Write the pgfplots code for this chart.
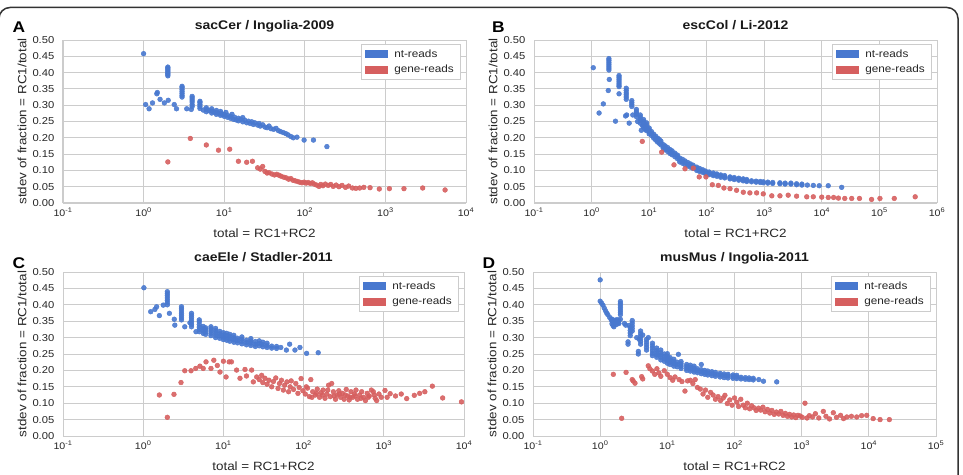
\documentclass[border=0pt]{standalone}
\usepackage{pgfplots}
\pgfplotsset{compat=1.18}
\usepackage{fontspec}
\setmainfont{Liberation Sans}[FakeStretch=1.12]

\definecolor{ntblue}{HTML}{4878CF}
\definecolor{genered}{HTML}{D65F5F}
\definecolor{txt}{HTML}{262626}

\pgfplotsset{
  every axis/.append style={
    scale only axis,
    xmin=0.1,
    ymin=0, ymax=0.5,
    ytick={0,0.05,0.1,0.15,0.2,0.25,0.3,0.35,0.4,0.45,0.5},
    xminorticks=false,
    major tick length=0pt,
    grid=major,
    major grid style={gray!40, line width=0.9pt},
    axis line style={gray!40, line width=1pt},
    tick label style={font=\fontsize{10}{12}\selectfont, text=txt},
    xticklabel style={anchor=base, yshift=-13.5pt, font=\fontsize{9.5}{11}\selectfont},
    yticklabel style={/pgf/number format/fixed, /pgf/number format/fixed zerofill,
      /pgf/number format/precision=2, /pgf/number format/assume math mode=true,
      anchor=east, inner sep=0pt, xshift=-8.5pt},
    label style={font=\fontsize{12}{14}\selectfont, text=txt},
    xlabel={total = RC1+RC2},
    ylabel={stdev of fraction = RC1/total},
    xlabel style={at={([yshift=-30pt]axis description cs:0.5,0)}, anchor=center},
    ylabel style={at={([xshift=-41pt]axis description cs:0,0.5)}, anchor=center},
    title style={font=\bfseries\fontsize{12.5}{14}\selectfont, text=black!90,
      at={([yshift=5pt]axis description cs:0.5,1)}, anchor=base, inner sep=0pt},
    legend style={at={(0.985,0.977)}, anchor=north east, draw=gray!40, fill=white,
      font=\fontsize{10.5}{12}\selectfont, text=txt, row sep=2.5pt,
      inner xsep=4pt, inner ysep=3.5pt},
    legend cell align=left,
  },
  ntpts/.style={only marks, mark=*, mark size=2.4pt, color=ntblue,
    mark options={draw=none, fill=ntblue, fill opacity=0.9},
    legend image code/.code={\fill[ntblue] (0pt,-3.5pt) rectangle (22pt,3.5pt);
      \path[draw=none, fill=none] (0pt,0pt) rectangle (27pt,0.1pt);}},
  genepts/.style={only marks, mark=*, mark size=2.4pt, color=genered,
    mark options={draw=none, fill=genered, fill opacity=0.9},
    legend image code/.code={\fill[genered] (0pt,-3.5pt) rectangle (22pt,3.5pt);
      \path[draw=none, fill=none] (0pt,0pt) rectangle (27pt,0.1pt);}},
}

\begin{document}
\begin{tikzpicture}
\useasboundingbox (0pt,0pt) rectangle (963pt,474pt);

% outer rounded frame
\draw[line width=1.5pt, black!80, rounded corners=11pt] (-1pt,-30pt) rectangle (958pt,466.5pt);

% panel letters
\node[font=\bfseries\fontsize{15.5}{17}\selectfont] at (19pt,446.5pt) {A};
\node[font=\bfseries\fontsize{15.5}{17}\selectfont] at (498.5pt,446.5pt) {B};
\node[font=\bfseries\fontsize{15.5}{17}\selectfont] at (19pt,211pt) {C};
\node[font=\bfseries\fontsize{15.5}{17}\selectfont] at (489pt,211pt) {D};

% ---------------- A ----------------
\begin{semilogxaxis}[at={(63pt,271pt)}, anchor=south west, width=403pt, height=163pt,
  xmax=1e4, xtick={0.1,1,10,100,1000,10000},
  xticklabels={10\textsuperscript{-1},10\textsuperscript{0},10\textsuperscript{1},10\textsuperscript{2},10\textsuperscript{3},10\textsuperscript{4}},
  title={sacCer / Ingolia-2009}]
\addplot[ntpts] coordinates {
(1.0,0.458) (1.06,0.302) (1.17,0.289) (1.29,0.307) (1.46,0.335) (1.48,0.339) (1.6,0.318) (1.81,0.307)
(2,0.390) (2,0.394) (2,0.398) (2,0.402) (2,0.406) (2,0.410) (2,0.414) (2,0.417) (2.02,0.315)
(2.4,0.302) (2.56,0.289)
(3,0.325) (3,0.330) (3,0.336) (3,0.342) (3,0.348) (3,0.354) (3,0.358)
(3.43,0.289) (3.9,0.287)
(4,0.296) (4,0.302) (4,0.310) (4,0.316) (4,0.322) (4,0.327)
(5,0.290) (5,0.296) (5,0.302) (5,0.308) (5,0.312)
(5.5,0.285) (6,0.280) (6,0.287) (6,0.292) (6.5,0.283) (7,0.276) (7,0.282) (7,0.289) (7.5,0.279)
(8,0.272) (8,0.278) (8,0.284) (8.5,0.275) (9,0.269) (9,0.276) (9,0.281) (9.5,0.272)
(10,0.266) (10,0.272) (10.5,0.278) (11,0.263) (11,0.269) (12,0.260) (12,0.266) (12.5,0.272)
(13,0.257) (13.5,0.263) (14,0.255) (15,0.260) (15,0.252) (16,0.257) (17,0.249) (17,0.262)
(18,0.254) (19,0.246) (20,0.251) (21,0.244) (22,0.249) (23,0.241) (24,0.246) (26,0.239)
(27,0.244) (28,0.236) (30,0.240) (32,0.233) (34,0.231) (36,0.236) (38,0.228) (41,0.226)
(44,0.229) (47,0.222) (50,0.219) (54,0.216) (58,0.213) (62,0.209) (67,0.204) (72,0.200)
(80,0.202) (98,0.193) (128,0.193) (188,0.173)
};
\addlegendentry{nt-reads}
\addplot[genepts] coordinates {
(2.0,0.126) (3.8,0.198) (6.0,0.178) (8.5,0.162) (11.7,0.165) (15,0.128) (19,0.125) (22.4,0.128)
(26,0.108) (28,0.104) (30,0.112) (32,0.097) (34,0.092) (36,0.093) (39,0.089) (42,0.086)
(45,0.088) (48,0.085) (51,0.082) (55,0.079) (59,0.077) (63,0.073) (67,0.075) (71,0.070)
(76,0.068) (81,0.066) (86,0.064) (92,0.062) (98,0.064) (104,0.061) (110,0.063) (117,0.060)
(124,0.062) (131,0.058) (140,0.055) (150,0.051) (158,0.057) (168,0.053) (180,0.058) (195,0.054)
(210,0.057) (225,0.051) (245,0.055) (265,0.050) (290,0.054) (320,0.048) (350,0.052) (390,0.046)
(430,0.045) (480,0.046) (540,0.048) (645,0.047) (840,0.043) (1120,0.044) (1700,0.044)
(2900,0.046) (5500,0.040)
};
\addlegendentry{gene-reads}
\end{semilogxaxis}

% ---------------- B ----------------
\begin{semilogxaxis}[at={(534pt,271pt)}, anchor=south west, width=403pt, height=163pt,
  xmax=1e6, xtick={0.1,1,10,100,1000,10000,100000,1000000},
  xticklabels={10\textsuperscript{-1},10\textsuperscript{0},10\textsuperscript{1},10\textsuperscript{2},10\textsuperscript{3},10\textsuperscript{4},10\textsuperscript{5},10\textsuperscript{6}},
  title={escCol / Li-2012}]
\addplot[ntpts] coordinates {
(1.07,0.415) (1.35,0.276) (1.6,0.304) (1.95,0.345) (2.03,0.379)
(2,0.408) (2,0.414) (2,0.420) (2,0.426) (2,0.432) (2,0.438) (2,0.443)
(2.6,0.251)
(3,0.357) (3,0.362) (3,0.368) (3,0.374) (3,0.380) (3,0.386) (3,0.391) (3,0.335)
(3.9,0.267)
(4,0.318) (4,0.325) (4,0.332) (4,0.338) (4,0.345) (4,0.352) (4.07,0.270)
(4.5,0.245)
(5,0.296) (5,0.302) (5,0.308) (5,0.314) (5.2,0.270)
(6,0.265) (6,0.272) (6,0.280) (6,0.287) (6,0.275) (6.3,0.250)
(7,0.245) (7,0.252) (7,0.258) (7,0.264) (7,0.270) (7.3,0.223) (7.6,0.238)
(8,0.232) (8,0.238) (8,0.244) (8,0.250) (8,0.256) (8.5,0.226)
(9,0.222) (9,0.228) (9,0.234) (9,0.240) (9,0.246)
(10,0.212) (10,0.218) (10,0.224) (10,0.230)
(11,0.207) (11,0.213) (11,0.219) (12,0.199) (12,0.205) (12,0.211)
(13,0.193) (13,0.199) (13,0.205) (14,0.187) (14,0.193) (14,0.199)
(15,0.183) (15,0.189) (15,0.195) (16,0.178) (16,0.184) (16,0.190)
(17.6,0.167) (17.6,0.173) (17.6,0.179) (19,0.163) (19,0.169) (19,0.175)
(21,0.158) (21,0.164) (21,0.170) (23,0.152) (23,0.158) (23,0.164)
(25,0.148) (25,0.154) (25,0.160) (28,0.142) (28,0.148) (28,0.153)
(31,0.136) (31,0.142) (31,0.147) (34,0.126) (34,0.132) (34,0.138)
(38,0.122) (38,0.128) (38,0.134) (42,0.118) (42,0.124) (42,0.129)
(47,0.114) (47,0.119) (47,0.124) (52,0.110) (52,0.115) (52,0.120)
(58,0.106) (58,0.111) (58,0.116) (67,0.100) (67,0.105) (67,0.110)
(75,0.097) (75,0.101) (75,0.106) (85,0.094) (85,0.098) (85,0.102)
(95,0.090) (95,0.094) (95,0.098) (110,0.087) (110,0.091) (110,0.095)
(130,0.084) (130,0.088) (130,0.092) (150,0.082) (150,0.086) (150,0.089)
(175,0.079) (175,0.083) (175,0.086) (205,0.077) (205,0.080) (205,0.084)
(254,0.074) (254,0.077) (254,0.080) (300,0.072) (300,0.075) (300,0.078)
(360,0.070) (360,0.073) (360,0.076) (430,0.068) (430,0.071) (430,0.074)
(495,0.066) (495,0.069) (495,0.072) (600,0.065) (600,0.068) (720,0.064) (720,0.067)
(850,0.063) (850,0.066) (960,0.062) (960,0.065) (1150,0.061) (1150,0.064)
(1400,0.060) (1400,0.063) (1870,0.059) (1870,0.062) (2300,0.058) (2300,0.061)
(2900,0.058) (2900,0.061) (3640,0.056) (3640,0.059) (4500,0.055) (4500,0.058)
(5600,0.055) (7100,0.054) (9000,0.053) (12900,0.053) (22100,0.048)
};
\addlegendentry{nt-reads}
\addplot[genepts] coordinates {
(7.6,0.189) (16.5,0.156) (27,0.117) (42,0.105) (58.5,0.107) (74,0.080) (97,0.080) (125,0.056)
(159,0.054) (199,0.046) (254,0.044) (330,0.039) (432,0.033) (562,0.031) (736,0.031) (960,0.028)
(1350,0.022) (1870,0.022) (2600,0.024) (3640,0.021) (5460,0.019) (7100,0.019) (9950,0.018)
(12900,0.017) (16000,0.017) (19400,0.015) (25000,0.014) (33000,0.014) (45000,0.014)
(73000,0.011) (102000,0.014) (181000,0.014) (418000,0.019)
};
\addlegendentry{gene-reads}
\end{semilogxaxis}

% ---------------- C ----------------
\begin{semilogxaxis}[at={(63pt,38pt)}, anchor=south west, width=401pt, height=164pt,
  xmax=1e4, xtick={0.1,1,10,100,1000,10000},
  xticklabels={10\textsuperscript{-1},10\textsuperscript{0},10\textsuperscript{1},10\textsuperscript{2},10\textsuperscript{3},10\textsuperscript{4}},
  title={caeEle / Stadler-2011}]
\addplot[ntpts] coordinates {
(1.02,0.452) (1.24,0.379) (1.4,0.386) (1.47,0.394) (1.59,0.367) (1.78,0.399)
(2,0.400) (2,0.407) (2,0.414) (2,0.421) (2,0.428) (2,0.434) (2,0.440)
(2.12,0.374) (2.44,0.356) (2.48,0.338)
(3,0.354) (3,0.360) (3,0.367) (3,0.374) (3,0.381) (3,0.388) (3,0.394) (3.3,0.333)
(3.83,0.345)
(4,0.333) (4,0.340) (4,0.347) (4,0.354) (4,0.361) (4,0.368) (4,0.374) (4.55,0.318)
(5,0.318) (5,0.325) (5,0.332) (5,0.340) (5,0.348) (5,0.354)
(5.6,0.313) (5.6,0.320) (5.6,0.328) (5.6,0.334)
(6,0.310) (6,0.317) (6,0.324) (6,0.330)
(7,0.306) (7,0.313) (7,0.320) (7,0.327) (7,0.333)
(8,0.300) (8,0.307) (8,0.314) (8,0.321) (8,0.328)
(9,0.298) (9,0.305) (9,0.312) (9,0.319)
(10,0.294) (10,0.301) (10,0.308) (10,0.315)
(11,0.292) (11,0.299) (11,0.306) (11,0.313)
(12,0.289) (12,0.296) (12,0.303) (12,0.310)
(13.5,0.286) (13.5,0.293) (13.5,0.300) (13.5,0.307)
(15,0.284) (15,0.291) (15,0.298)
(17,0.281) (17,0.288) (17,0.295) (17,0.302)
(19.4,0.278) (19.4,0.285) (19.4,0.292)
(22,0.276) (22,0.283) (22,0.290) (22,0.297)
(25,0.273) (25,0.280) (25,0.288)
(28,0.275) (28,0.282) (28,0.290)
(31,0.272) (31,0.279) (31,0.286)
(35,0.270) (35,0.276) (35,0.283)
(40,0.268) (40,0.274) (46,0.267) (46,0.273) (52,0.270) (61,0.262) (67,0.280) (78,0.262)
(90,0.270) (109,0.252) (152,0.254)
};
\addlegendentry{nt-reads}
\addplot[genepts] coordinates {
(1.59,0.125) (2.0,0.057) (2.42,0.127) (2.96,0.163) (3.3,0.199) (3.95,0.199) (4.52,0.206)
(5.1,0.213) (5.6,0.206) (6.07,0.226) (7.0,0.206) (7.6,0.231) (8.4,0.215) (9.07,0.195)
(10,0.228) (10.8,0.180) (11.8,0.226) (12.6,0.226) (14.6,0.201) (16.1,0.176) (18.6,0.203)
(19.4,0.183) (22.5,0.201) (23.6,0.165) (26,0.180) (28,0.172) (30,0.185) (31,0.163)
(33,0.176) (35,0.158) (37,0.170) (40,0.150) (42,0.166) (45,0.177) (48,0.145) (50,0.160)
(53,0.170) (56,0.140) (58,0.155) (62,0.165) (65,0.135) (68,0.150) (70,0.168) (75,0.142)
(80,0.160) (85,0.130) (88,0.148) (93,0.175) (98,0.138) (105,0.128) (112,0.146) (118,0.120)
(123,0.172) (130,0.135) (140,0.125) (148,0.143) (158,0.118) (165,0.132) (175,0.140)
(185,0.115) (195,0.128) (205,0.155) (215,0.120) (224,0.160) (235,0.135) (250,0.112)
(262,0.125) (275,0.138) (290,0.118) (305,0.130) (320,0.112) (340,0.142) (355,0.122)
(370,0.110) (390,0.135) (410,0.118) (430,0.128) (450,0.140) (470,0.112) (500,0.125)
(530,0.135) (560,0.118) (590,0.108) (620,0.130) (660,0.122) (700,0.140) (740,0.135)
(780,0.115) (815,0.108) (870,0.128) (930,0.118) (1035,0.139) (1200,0.129) (1400,0.122)
(1650,0.128) (1930,0.114) (2400,0.124) (2800,0.130) (3250,0.135) (4030,0.152) (5420,0.116)
(9300,0.104)
(108,0.150) (127,0.118) (145,0.130) (172,0.125) (200,0.140) (240,0.122) (280,0.128)
(330,0.125) (380,0.118) (440,0.122) (520,0.115) (640,0.118) (760,0.125) (1100,0.118)
};
\addlegendentry{gene-reads}
\end{semilogxaxis}

% ---------------- D ----------------
\begin{semilogxaxis}[at={(533pt,38pt)}, anchor=south west, width=403pt, height=164pt,
  xmax=1e5, xtick={0.1,1,10,100,1000,10000,100000},
  xticklabels={10\textsuperscript{-1},10\textsuperscript{0},10\textsuperscript{1},10\textsuperscript{2},10\textsuperscript{3},10\textsuperscript{4},10\textsuperscript{5}},
  title={musMus / Ingolia-2011}]
\addplot[ntpts] coordinates {
(1.0,0.476) (1.0,0.411) (1.05,0.405) (1.1,0.399) (1.15,0.390) (1.2,0.382) (1.25,0.375)
(1.3,0.370) (1.38,0.362) (1.45,0.356) (1.5,0.350) (1.5,0.342) (1.55,0.337) (1.6,0.345)
(1.6,0.333) (1.65,0.352) (1.7,0.345) (1.75,0.340) (1.8,0.348) (1.85,0.345) (1.9,0.352)
(1.52,0.356) (1.58,0.350) (1.62,0.340) (1.7,0.352) (1.78,0.355) (1.9,0.343)
(2,0.370) (2,0.377) (2,0.384) (2,0.391) (2,0.398) (2,0.404) (2,0.410) (2,0.356)
(2.3,0.343) (2.4,0.338) (2.6,0.287) (2.6,0.280)
(2.8,0.306) (2.8,0.314) (2.8,0.322) (2.8,0.330) (2.7,0.337)
(3,0.320) (3,0.328) (3,0.336) (3,0.344) (3,0.352)
(3.7,0.250) (3.7,0.258) (3.5,0.300) (3.8,0.295)
(4,0.280) (4,0.288) (4,0.296) (4,0.304) (4,0.312) (4,0.320) (4.3,0.308)
(4.9,0.262) (4.9,0.270) (4.9,0.278) (4.9,0.286) (4.9,0.294) (5.2,0.300)
(6,0.245) (6,0.252) (6,0.260) (6,0.268) (6,0.275) (6,0.283)
(6.95,0.240) (6.95,0.247) (6.95,0.254) (6.95,0.261) (6.95,0.268)
(8,0.232) (8,0.240) (8,0.247) (8,0.254) (8,0.262)
(9,0.228) (9,0.235) (9,0.242) (9,0.250)
(10,0.222) (10,0.229) (10,0.236) (10,0.243) (10,0.251)
(11,0.218) (11,0.225) (11,0.232) (11,0.239)
(12.5,0.213) (12.5,0.220) (12.5,0.227) (12.5,0.234)
(14,0.211) (14,0.218) (14,0.225) (14.6,0.249)
(16,0.206) (16,0.213) (16,0.220) (16,0.227)
(19.4,0.200) (19.4,0.206) (19.4,0.212) (19.4,0.218)
(22,0.198) (22,0.204) (22,0.210) (22,0.216)
(25,0.195) (25,0.201) (25,0.207) (25,0.213)
(28,0.193) (28,0.199) (28,0.205)
(32,0.190) (32,0.196) (32,0.202) (32,0.218)
(36,0.188) (36,0.194) (36,0.200)
(40,0.186) (40,0.192) (40,0.198)
(46,0.184) (46,0.190) (46,0.196)
(52,0.182) (52,0.188) (52,0.194)
(61,0.180) (61,0.186) (61,0.191)
(70,0.178) (70,0.184) (70,0.189)
(80,0.177) (80,0.183) (80,0.188)
(95,0.176) (95,0.181) (95,0.186)
(108,0.175) (108,0.180) (108,0.185)
(125,0.174) (125,0.179) (145,0.173) (145,0.178) (165,0.172) (165,0.177)
(190,0.171) (190,0.176) (230,0.172) (270,0.167) (425,0.165)
};
\addlegendentry{nt-reads}
\addplot[genepts] coordinates {
(1.57,0.188) (2.09,0.054) (2.43,0.194) (3.1,0.168) (3.3,0.161) (3.0,0.172) (4.15,0.181)
(4.3,0.174) (5.2,0.214) (5.5,0.205) (6.0,0.198) (6.5,0.188) (7.0,0.205) (7.5,0.192)
(8.0,0.182) (9,0.199) (10,0.188) (11,0.178) (12,0.170) (13,0.180) (15,0.172) (16.5,0.166)
(18.3,0.137) (20,0.168) (22,0.170) (24,0.160) (26,0.172) (28,0.148) (31,0.143) (34,0.128)
(37,0.140) (40,0.118) (44,0.133) (48,0.125) (52,0.112) (57,0.120) (62,0.108) (68,0.116)
(72,0.124) (78,0.099) (85,0.110) (92,0.094) (100,0.116) (108,0.103) (115,0.090) (124,0.112)
(135,0.094) (145,0.086) (155,0.100) (168,0.083) (180,0.092) (195,0.086) (210,0.078)
(228,0.085) (245,0.079) (265,0.088) (285,0.074) (310,0.081) (335,0.070) (360,0.078)
(390,0.066) (420,0.073) (455,0.067) (490,0.075) (530,0.063) (570,0.069) (615,0.060)
(660,0.066) (710,0.058) (760,0.064) (820,0.056) (880,0.063) (950,0.061) (1020,0.057)
(1120,0.100) (1200,0.055) (1300,0.062) (1450,0.058) (1600,0.068) (1800,0.055) (2100,0.075)
(2300,0.060) (2600,0.052) (2960,0.071) (3300,0.057) (3800,0.063) (4200,0.053) (4700,0.058)
(5500,0.060) (6600,0.058) (7800,0.062) (9300,0.063) (11600,0.053) (14700,0.050) (20200,0.050)
};
\addlegendentry{gene-reads}
\end{semilogxaxis}
\end{tikzpicture}
\end{document}
